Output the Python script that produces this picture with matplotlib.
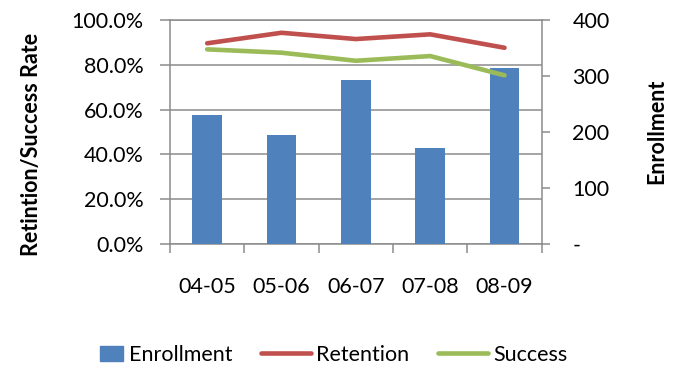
import matplotlib.pyplot as plt
import numpy as np
from matplotlib.patches import Rectangle
from matplotlib.lines import Line2D
from matplotlib.legend_handler import HandlerPatch
from matplotlib.ticker import FuncFormatter

plt.rcParams['font.family'] = ['Lato', 'DejaVu Sans']

# Academic years and series
years = ["04-05", "05-06", "06-07", "07-08", "08-09"]
enrollment = [231, 195, 293, 172, 315]
retention = [0.896, 0.943, 0.915, 0.936, 0.876]
success = [0.869, 0.854, 0.818, 0.839, 0.753]

bar_color = "#4F81BD"
ret_color = "#C0504D"
suc_color = "#9BBB59"
grid_color = "#8C8C8C"
fs = 15.5

fig = plt.figure(figsize=(6.77, 3.68), dpi=100)
ax = fig.add_axes([170 / 677, 1 - 244 / 368, (541.7 - 170) / 677, 224 / 368])
ax2 = ax.twinx()   # enrollment bars
ax3 = ax.twinx()   # rate lines, drawn above the bars

x = np.arange(len(years))

# left axis: percentages, gridlines
ax.set_xlim(-0.5, len(years) - 0.5)
ax.set_ylim(0, 1)
ax.set_yticks(np.arange(0, 1.01, 0.2))
ax.yaxis.set_major_formatter(FuncFormatter(lambda v, p: "{:.1f}%".format(v * 100)))
ax.grid(axis="y", color=grid_color, linewidth=1.1)
ax.set_axisbelow(True)
ax.tick_params(axis="y", length=7, width=1.1, color=grid_color, pad=12, labelsize=fs)
ax.set_xticks(np.arange(-0.5, len(years)), labels=[""] * (len(years) + 1))
ax.set_xticks(x, labels=years, minor=True)
ax.tick_params(axis="x", which="major", length=6.5, width=1.1, color=grid_color)
ax.tick_params(axis="x", which="minor", length=0, pad=24, labelsize=fs)
for s in ["left", "bottom", "top"]:
    ax.spines[s].set_color(grid_color)
    ax.spines[s].set_linewidth(1.1)
ax.spines["right"].set_visible(False)

# right axis: enrollment bars
ax2.bar(x, enrollment, width=0.4, color=bar_color, zorder=2)
ax2.set_ylim(0, 400)
ax2.set_yticks([0, 100, 200, 300, 400], labels=["-", "100", "200", "300", "400"])
ax2.tick_params(axis="y", length=6, width=1.1, color=grid_color, pad=16, labelsize=fs)
for s in ["left", "bottom", "top"]:
    ax2.spines[s].set_visible(False)
ax2.spines["right"].set_color(grid_color)
ax2.spines["right"].set_linewidth(1.1)

# rate lines on the percentage scale
ax3.plot(x, retention, color=ret_color, linewidth=3.3, solid_capstyle="round")
ax3.plot(x, success, color=suc_color, linewidth=3.3, solid_capstyle="round")
ax3.set_ylim(0, 1)
ax3.set_yticks([])
for s in ax3.spines.values():
    s.set_visible(False)

fig.text(32 / 677, 1 - 144 / 368, "Retintion/Success Rate", rotation=90,
         ha="center", va="center", fontsize=fs, fontweight="bold")
fig.text(657 / 677, 1 - 131 / 368, "Enrollment", rotation=90,
         ha="center", va="center", fontsize=fs, fontweight="bold")


def small_box(legend, orig_handle, xdescent, ydescent, width, height, fontsize):
    # square swatch pushed to the right end of the handle slot
    w, h = 16.5, 10.5
    return Rectangle((width - xdescent - w, -ydescent + (height - h) / 2), w, h)


handles = [
    Rectangle((0, 0), 1, 1, color=bar_color),
    Line2D([], [], color=ret_color, linewidth=3.3, solid_capstyle="round"),
    Line2D([], [], color=suc_color, linewidth=3.3, solid_capstyle="round"),
]
fig.legend(handles, ["Enrollment", "Retention", "Success"], ncol=3,
           loc="center", bbox_to_anchor=(0.4734, 1 - 355 / 368),
           frameon=False, fontsize=fs, handlelength=2.3, handletextpad=0.25,
           columnspacing=1.35,
           handler_map={Rectangle: HandlerPatch(patch_func=small_box)})

fig.savefig("out.png", dpi=100)
